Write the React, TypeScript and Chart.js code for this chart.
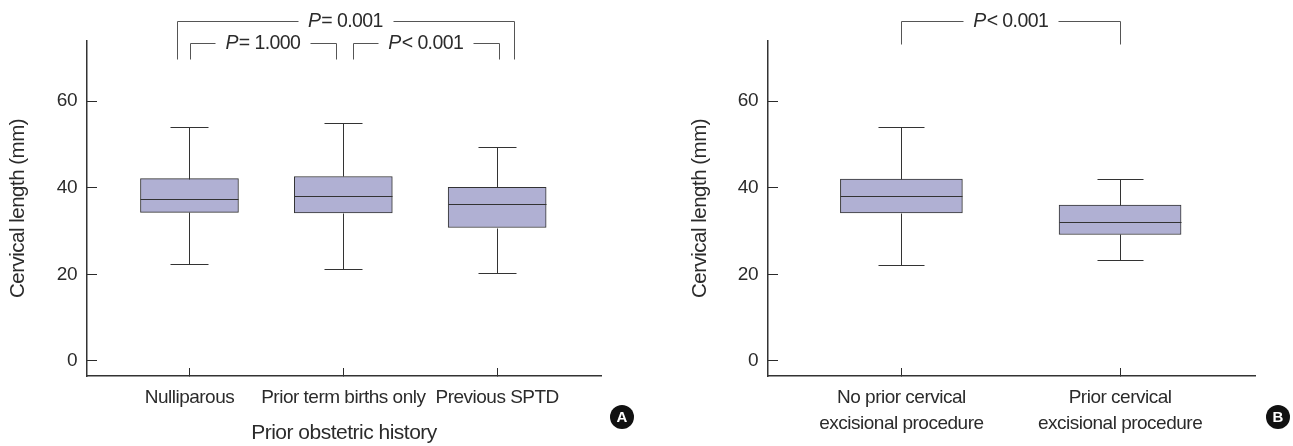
import React, { useEffect, useRef } from "react";
import { Chart, registerables } from "chart.js";
Chart.register(...registerables);

const FONT = '"Liberation Sans", sans-serif';
const INK = "#2b2b2b";
const BOX = "#b0b0d3";

const categoriesA = ["Nulliparous", "Prior term births only", "Previous SPTD"];
const q1A = [34.3, 34.2, 30.8];
const medianA = [37.5, 38.1, 36.2];
const q3A = [42.1, 42.6, 40.1];
const lowA = [22.3, 21.2, 20.3];
const highA = [54.1, 55, 49.4];

const categoriesB = [["No prior cervical", "excisional procedure"], ["Prior cervical", "excisional procedure"]];
const q1B = [34.2, 29.2];
const medianB = [38, 32];
const q3B = [42, 36];
const lowB = [22.2, 23.2];
const highB = [54, 42];

const yTicks = [0, 20, 40, 60];
const yTitle = "Cervical length (mm)";
const xTitleA = "Prior obstetric history";

// [x from, x to, y top, y foot, relation text after the italic P]
const bracketsA: [number, number, number, number, string][] = [
  [0.919, 3.107, 78.6, 69.8, "= 0.001"],
  [1.003, 1.951, 73.5, 69.8, "= 1.000"],
  [2.062, 3.01, 73.5, 69.8, "< 0.001"],
];
const bracketsB: [number, number, number, number, string][] = [[1, 2, 78.6, 73.2, "< 0.001"]];

function Panel(props: any) {
  const ref = useRef<HTMLCanvasElement>(null);
  useEffect(() => {
    const { categories, q1, median, q3, low, high, brackets, letter, xTitle, left, right, xMin, xMax, barPx, capPx, badgeX, gapPx } = props;
    const centers = categories.map((_: any, i: number) => i + 1);
    const overlay = {
      id: "overlay",
      beforeDraw(chart: any) {
        chart.ctx.letterSpacing = "-0.5px";
      },
      afterDatasetsDraw(chart: any) {
        const { ctx, scales } = chart;
        const { x, y } = scales;
        ctx.save();
        ctx.strokeStyle = "#333";
        ctx.lineWidth = 1;
        const seg = (a: number, b: number, c: number, d: number) => {
          ctx.beginPath();
          ctx.moveTo(Math.round(a) + 0.5, Math.round(b) + 0.5);
          ctx.lineTo(Math.round(c) + 0.5, Math.round(d) + 0.5);
          ctx.stroke();
        };
        centers.forEach((c: number, i: number) => {
          const px = x.getPixelForValue(c);
          seg(px, y.getPixelForValue(high[i]), px, y.getPixelForValue(q3[i]));
          seg(px, y.getPixelForValue(q1[i]), px, y.getPixelForValue(low[i]));
          seg(px - capPx, y.getPixelForValue(high[i]), px + capPx, y.getPixelForValue(high[i]));
          seg(px - capPx, y.getPixelForValue(low[i]), px + capPx, y.getPixelForValue(low[i]));
          seg(px - barPx / 2, y.getPixelForValue(median[i]), px + barPx / 2, y.getPixelForValue(median[i]));
        });
        ctx.strokeStyle = "#555";
        ctx.fillStyle = INK;
        ctx.textBaseline = "middle";
        brackets.forEach(([a, b, top, foot, rel]: any) => {
          const xa = x.getPixelForValue(a), xb = x.getPixelForValue(b);
          const yt = y.getPixelForValue(top), yf = y.getPixelForValue(foot);
          const mid = (xa + xb) / 2;
          ctx.letterSpacing = "-0.6px";
          ctx.font = `italic 19.5px ${FONT}`;
          const pw = ctx.measureText("P").width + 1;
          ctx.font = `19.5px ${FONT}`;
          const rw = ctx.measureText(rel).width;
          const tw = pw + rw;
          const tx = mid - tw / 2;
          seg(xa, yf, xa, yt);
          seg(xa, yt, tx - gapPx, yt);
          seg(tx + tw + gapPx, yt, xb, yt);
          seg(xb, yt, xb, yf);
          ctx.textAlign = "left";
          ctx.font = `italic 19.5px ${FONT}`;
          ctx.fillText("P", tx, yt + 1);
          ctx.font = `19.5px ${FONT}`;
          ctx.fillText(rel, tx + pw, yt + 1);
        });
        ctx.letterSpacing = "0px";
        ctx.fillStyle = "#111";
        ctx.beginPath();
        ctx.arc(badgeX, 417, 12, 0, Math.PI * 2);
        ctx.fill();
        ctx.fillStyle = "#fff";
        ctx.font = `bold 15px ${FONT}`;
        ctx.textAlign = "center";
        ctx.fillText(letter, badgeX, 418);
        ctx.restore();
        ctx.letterSpacing = "-0.5px";
      },
    };
    const chart = new Chart(ref.current!, {
      type: "bar",
      plugins: [overlay],
      data: {
        datasets: [
          {
            data: centers.map((c: number, i: number) => ({ x: c, y: [q1[i], q3[i]] })),
            backgroundColor: BOX,
            borderColor: "#333",
            borderWidth: 1,
            borderSkipped: false,
            barThickness: barPx,
          } as any,
        ],
      },
      options: {
        responsive: false,
        animation: false,
        events: [],
        layout: { padding: { left: 0, top: 41, right, bottom: 0 } },
        plugins: { legend: { display: false }, tooltip: { enabled: false } },
        scales: {
          x: {
            type: "linear",
            offset: false,
            min: xMin,
            max: xMax,
            afterBuildTicks(s: any) {
              s.ticks = centers.map((v: number) => ({ value: v }));
            },
            afterFit(s: any) {
              s.height = 70;
            },
            grid: { drawOnChartArea: false, offset: false, tickLength: -8, color: INK },
            border: { color: "#333", width: 1.5 },
            ticks: {
              autoSkip: false,
              maxRotation: 0,
              padding: 17,
              color: INK,
              font: { family: FONT, size: 19, lineHeight: 1.37 },
              callback: (v: any) => categories[Number(v) - 1],
            },
            title: xTitle
              ? { display: true, text: xTitle, color: INK, padding: { top: 0, bottom: 0 }, font: { family: FONT, size: 21 } }
              : { display: false },
          },
          y: {
            min: -3.5,
            max: 73.9,
            afterBuildTicks(s: any) {
              s.ticks = yTicks.map((v) => ({ value: v }));
            },
            afterFit(s: any) {
              s.width = left;
            },
            grid: { drawOnChartArea: false, tickLength: -10, color: INK },
            border: { color: "#333", width: 1.5 },
            ticks: { padding: 20, color: INK, font: { family: FONT, size: 19 } },
            title: { display: true, text: yTitle, color: INK, padding: { top: 6, bottom: 0 }, font: { family: FONT, size: 20.5 } },
          },
        },
      },
    });
    return () => chart.destroy();
  }, []);
  return <canvas ref={ref} width={props.W} height={446} style={{ position: "absolute", left: props.X, top: 0, width: props.W, height: 446 }} />;
}

export default function App() {
  return (
    <div style={{ position: "fixed", left: 0, top: 0, width: 1293, height: 446, background: "#fff", overflow: "hidden" }}>
      <Panel X={0} W={650} left={87} right={49} xMin={0.334} xMax={3.675} barPx={98} capPx={19} badgeX={622} gapPx={10}
        categories={categoriesA} q1={q1A} median={medianA} q3={q3A} low={lowA} high={highA} brackets={bracketsA} letter="A" xTitle={xTitleA} />
      <Panel X={682} W={611} left={86} right={38} xMin={0.39} xMax={2.617} barPx={122} capPx={23} badgeX={596} gapPx={10}
        categories={categoriesB} q1={q1B} median={medianB} q3={q3B} low={lowB} high={highB} brackets={bracketsB} letter="B" xTitle={""} />
    </div>
  );
}
